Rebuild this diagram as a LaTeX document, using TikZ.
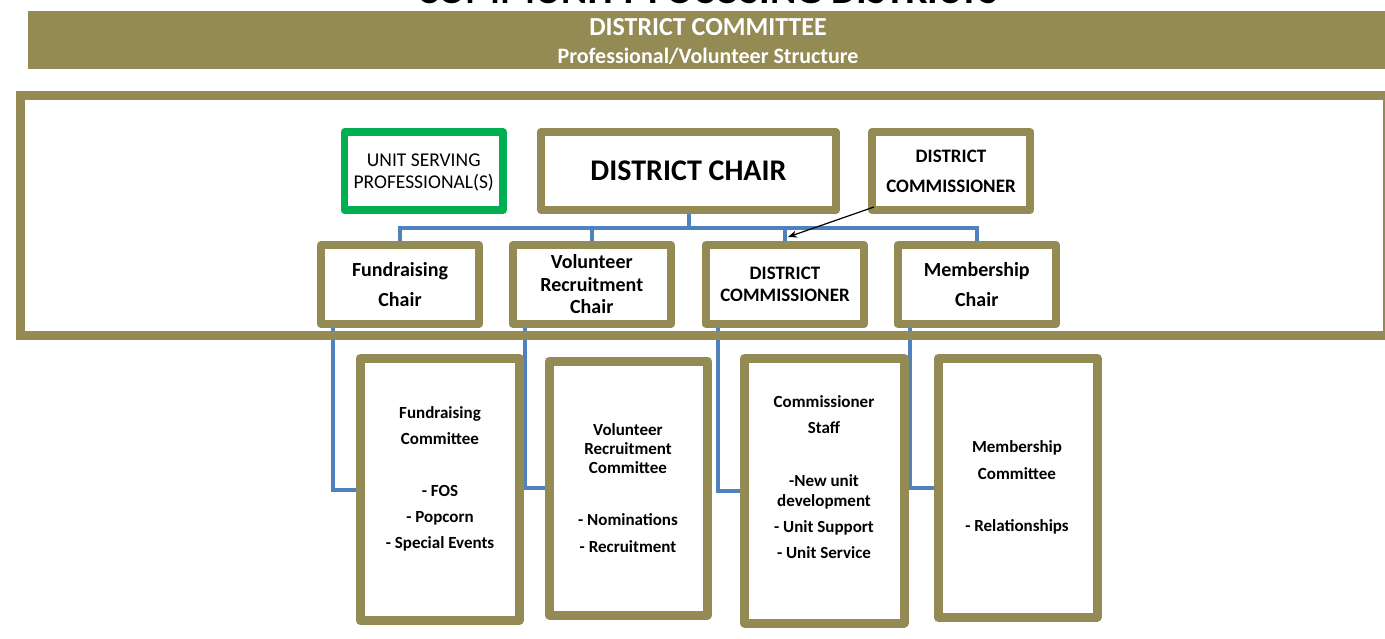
\documentclass[tikz,border=0pt]{standalone}
\usepackage{fontspec}
\setmainfont{Carlito}
\usetikzlibrary{arrows.meta,backgrounds}
\definecolor{olivebox}{HTML}{948A54}
\definecolor{linkblue}{HTML}{4F81BD}
\definecolor{unitgreen}{HTML}{00B050}

\begin{document}
\begin{tikzpicture}[x=1pt,y=-1pt,
  box/.style={draw=olivebox, line width=8pt, line join=round, fill=white,
    inner sep=0pt, align=center, text=black},
  topbox/.style={box, minimum height=78pt},
  chairbox/.style={box, minimum width=158pt, minimum height=79pt,
    font=\bfseries\fontsize{20}{22.5}\selectfont},
  combox/.style={box, line width=9pt},
  comtext/.style={align=center, text=black, font=\bfseries\fontsize{17}{26}\selectfont},
  link/.style={draw=linkblue, line width=4pt},
  banner/.style={text=white, inner sep=0pt},
]
\useasboundingbox (0,0) rectangle (1385,638);
\clip (0,0) rectangle (1385,638);

% page heading (runs off the top edge)
\node[anchor=base, inner sep=0pt, font=\bfseries\fontsize{40}{40}\selectfont]
  (heading) at (708,3.5) {COMMUNITY FOCUSING DISTRICTS};

% title banner
\fill[olivebox] (28,11) rectangle (1390,69);
\node[banner, font=\bfseries\fontsize{26}{26}\selectfont] (btitle) at (708,27) {DISTRICT COMMITTEE};
\node[banner, font=\bfseries\fontsize{22}{22}\selectfont] (bsub) at (708,56) {Professional/Volunteer Structure};

% outer frame around the district committee
\draw[olivebox, line width=9pt] (20.5,95.5) rectangle (1387.5,335.5);

% top row
\node[topbox, draw=unitgreen, line width=7.5pt, minimum width=158.5pt, text depth=0pt,
  font=\fontsize{19.5}{22.5}\selectfont] (usp) at (423.75,171) {UNIT SERVING\\PROFESSIONAL(S)};
\node[topbox, minimum width=295pt, font=\bfseries\fontsize{30}{30}\selectfont]
  (chair) at (688.5,171) {DISTRICT CHAIR};
\node[topbox, minimum width=158pt, font=\bfseries\fontsize{19}{30}\selectfont]
  (dctop) at (951,171) {DISTRICT\\COMMISSIONER};

% chairs
\node[chairbox, font=\bfseries\fontsize{20}{30}\selectfont] (fchair) at (400,284.5) {Fundraising\\Chair};
\node[chairbox] (vchair) at (591.75,284.5) {Volunteer\\Recruitment\\Chair};
\node[chairbox, font=\bfseries\fontsize{19}{22}\selectfont] (dchair) at (785,284.5) {DISTRICT\\COMMISSIONER};
\node[chairbox, font=\bfseries\fontsize{20}{30}\selectfont] (mchair) at (976.75,284.5) {Membership\\Chair};

% committees
\node[combox, minimum width=159pt, minimum height=262pt] (fcom) at (439.5,489.5) {};
\node[comtext] (fcomtext) at (440,479)
  {Fundraising\\Committee\\[26pt]- FOS\\- Popcorn\\- Special Events};

\node[combox, minimum width=158pt, minimum height=254pt] (vcom) at (628.5,488) {};
\node[comtext, font=\bfseries\fontsize{17}{19}\selectfont] (vcomtext) at (628,488.5)
  {Volunteer\\Recruitment\\Committee\\[33pt]- Nominations\\[8pt]- Recruitment};

\node[combox, minimum width=159.5pt, minimum height=264.5pt] (ccom) at (824.25,490.75) {};
\node[comtext] (ccomtext) at (824,477)
  {Commissioner\\Staff\\[27pt]-New unit\\[-6pt]development\\- Unit Support\\- Unit Service};

\node[combox, minimum width=159pt, minimum height=258.5pt] (mcom) at (1017.5,487.75) {};
\node[comtext, font=\bfseries\fontsize{17}{27}\selectfont] (mcomtext) at (1017,487)
  {Membership\\Committee\\[25pt]- Relationships};

% reporting lines
\begin{scope}[on background layer]
  \coordinate (bus) at (688.5,227.5);
  \draw[link] (chair.south) -- (bus);
  \draw[link] (fchair.north) |- (bus) -| (mchair.north);
  \draw[link] (vchair.north) -- (vchair.north |- bus);
  \draw[link] (dchair.north) -- (dchair.north |- bus);
  \draw[link] ([xshift=16pt]fchair.south west) |- (fcom.west);
  \draw[link] ([xshift=16pt]vchair.south west) |- (vcom.west);
  \draw[link] ([xshift=16pt]dchair.south west) |- (ccom.west);
  \draw[link] ([xshift=16pt]mchair.south west) |- (mcom.west);
\end{scope}

% commissioner link
\draw[-{Stealth[length=9pt,width=7pt]}, line width=1.2pt]
  ([xshift=6pt,yshift=7pt]dctop.south west) -- ([xshift=3pt,yshift=4pt]dchair.north);
\end{tikzpicture}
\end{document}
